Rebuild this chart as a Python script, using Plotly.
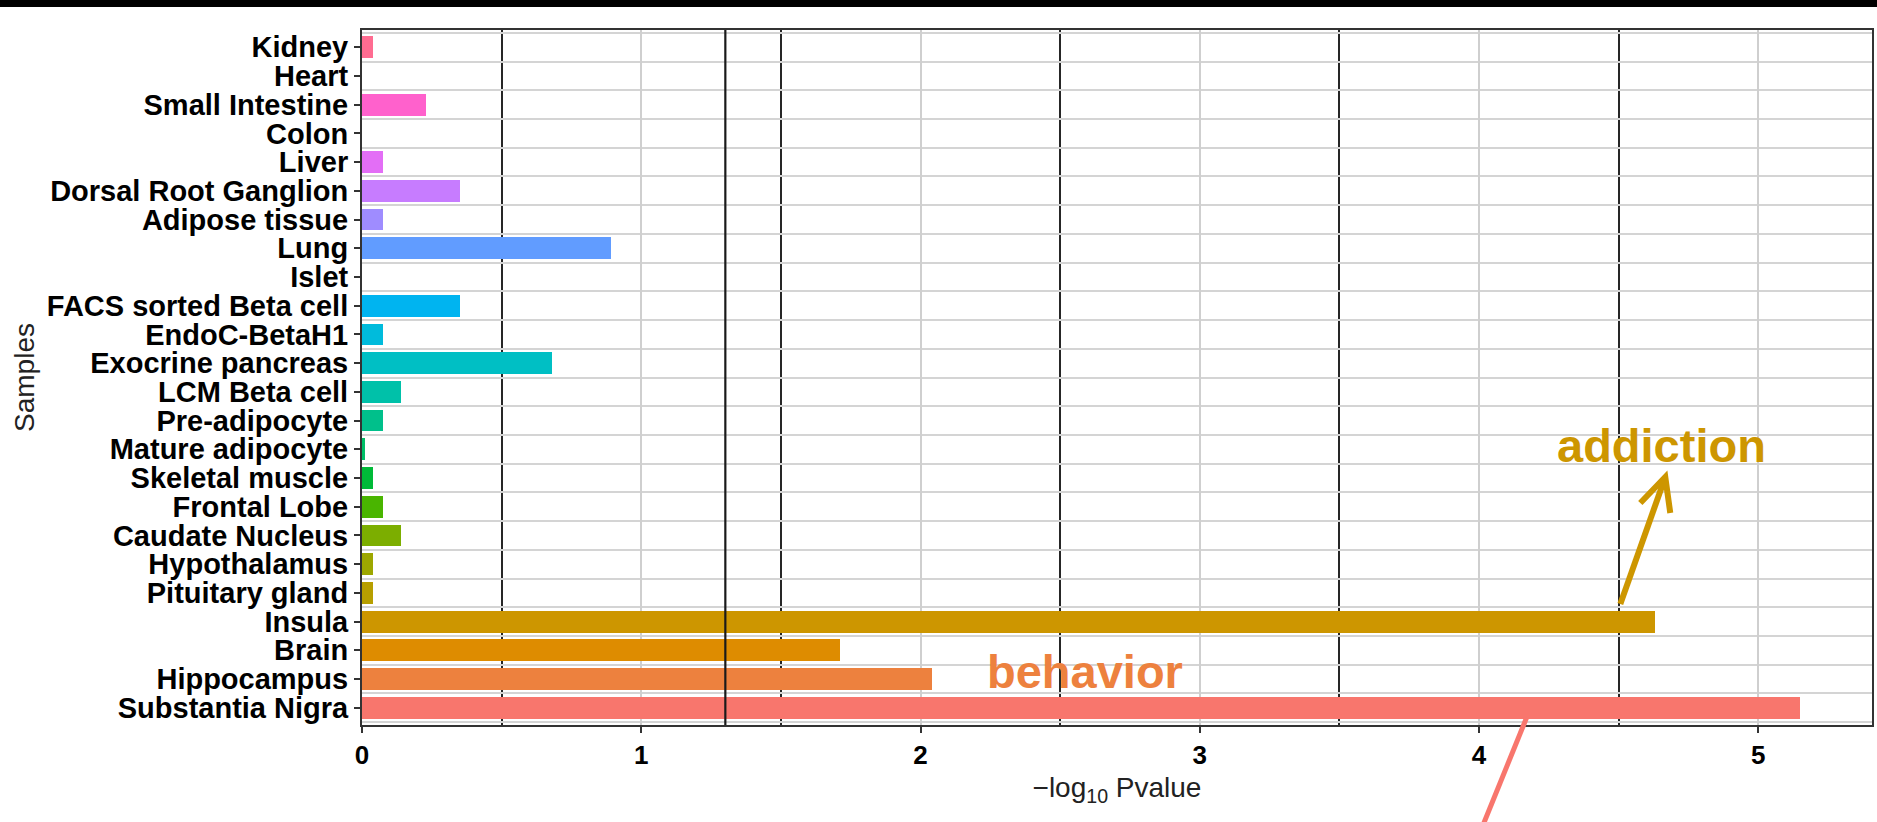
import math
import plotly.graph_objects as go

# Samples listed bottom-to-top, with their enrichment scores (-log10 P)
samples = [
    "Substantia Nigra", "Hippocampus", "Brain", "Insula", "Pituitary gland",
    "Hypothalamus", "Caudate Nucleus", "Frontal Lobe", "Skeletal muscle",
    "Mature adipocyte", "Pre-adipocyte", "LCM Beta cell", "Exocrine pancreas",
    "EndoC-BetaH1", "FACS sorted Beta cell", "Islet", "Lung", "Adipose tissue",
    "Dorsal Root Ganglion", "Liver", "Colon", "Small Intestine", "Heart", "Kidney",
]
neg_log10_p = [
    5.15, 2.04, 1.71, 4.63, 0.04,
    0.04, 0.14, 0.075, 0.04,
    0.01, 0.075, 0.14, 0.68,
    0.075, 0.35, 0.0, 0.89, 0.075,
    0.35, 0.075, 0.0, 0.23, 0.0, 0.04,
]
p_threshold = 0.05
x_ticks = [0, 1, 2, 3, 4, 5]

FONT = "Liberation Sans, Arial, Helvetica, sans-serif"
W, H = 1877, 822
L, R, T, B = 362, 3, 30, 97
PW, PH = W - L - R, H - T - B


def hue_palette(n, c=100.0, l=65.0):
    """Evenly spaced HCL hues (polarLUV -> sRGB, D65 white)."""
    hues = [15 + i * 345.0 / (n - 1) for i in range(n)]
    wx, wy, wz = 95.047, 100.0, 108.883
    wu, wv = 0.1978398, 0.4683363

    def gam(u):
        return 1.055 * u ** (1 / 2.4) - 0.055 if u > 0.00304 else 12.92 * u

    out = []
    for h in hues:
        hr = math.radians(h)
        U, V = c * math.cos(hr), c * math.sin(hr)
        Y = wy * (((l + 16) / 116) ** 3 if l > 7.999592 else l / 903.3)
        u = U / (13 * l) + wu
        v = V / (13 * l) + wv
        X = 9.0 * Y * u / (4 * v)
        Z = -X / 3 - 5 * Y + 3 * Y / v
        rgb = [
            gam((3.240479 * X - 1.537150 * Y - 0.498535 * Z) / wy),
            gam((-0.969256 * X + 1.875992 * Y + 0.041556 * Z) / wy),
            gam((0.055648 * X - 0.204043 * Y + 1.057311 * Z) / wy),
        ]
        rgb = [min(1.0, max(0.0, k)) for k in rgb]
        out.append("#%02X%02X%02X" % tuple(int(255 * k + 0.5) for k in rgb))
    return out


colors = hue_palette(len(samples))
positions = list(range(len(samples)))


def px(x):
    return (x - L) / PW


def py(y):
    return (T + PH - y) / PH


fig = go.Figure()
fig.add_trace(go.Bar(
    x=neg_log10_p, y=positions, orientation="h", width=0.76,
    marker=dict(color=colors, line=dict(width=0)),
    hoverinfo="skip", showlegend=False,
))

axis_line = "#333333"
fig.update_layout(
    width=W, height=H,
    margin=dict(l=L, r=R, t=T, b=B, pad=0),
    paper_bgcolor="white", plot_bgcolor="white",
    font=dict(family=FONT, color="black"),
    bargap=0,
    xaxis=dict(
        range=[0, 5.407], tickmode="array", tickvals=x_ticks,
        ticks="outside", ticklen=6, tickwidth=2, tickcolor=axis_line,
        showline=True, linewidth=2, linecolor=axis_line, mirror=True,
        showgrid=True, gridcolor="#cfcfcf", gridwidth=2, zeroline=False,
        tickfont=dict(size=26, weight="bold", color="black"),
        minor=dict(tickmode="linear", tick0=0.5, dtick=1, showgrid=True,
                   gridcolor="#262626", gridwidth=2.2, ticks=""),
        title=dict(text="\u2212log<sub>10</sub> Pvalue",
                   font=dict(size=28, color="#222222"), standoff=8),
    ),
    yaxis=dict(
        range=[-0.6, len(samples) - 0.4], tickmode="array",
        tickvals=positions, ticktext=samples,
        ticks="outside", ticklen=6, tickwidth=2, tickcolor=axis_line,
        showline=True, linewidth=2, linecolor=axis_line, mirror=True,
        showgrid=False, zeroline=False,
        tickfont=dict(size=29, weight="bold", color="black"),
        minor=dict(tickmode="linear", tick0=0.5, dtick=1, showgrid=True,
                   gridcolor="#d4d4d4", gridwidth=2, ticks=""),
        title=dict(text="Samples", font=dict(size=28, color="#222222"),
                   standoff=4),
    ),
)

# significance threshold line, drawn over the bars
fig.add_shape(type="line", xref="x", yref="paper",
              x0=-math.log10(p_threshold), x1=-math.log10(p_threshold),
              y0=0, y1=1, line=dict(color="#1a1a1a", width=2.2), layer="above")

# black band along the top edge
fig.add_shape(type="rect", xref="paper", yref="paper",
              x0=px(-5), x1=px(W + 5), y0=py(7), y1=py(-5),
              fillcolor="black", line=dict(width=0), layer="above")

# callout arrows
gold = colors[3]
fig.add_shape(type="path", xref="paper", yref="paper",
              path="M %f,%f L %f,%f" % (px(1622), py(604), px(1667), py(477)),
              line=dict(color=gold, width=6), layer="above")
fig.add_shape(type="path", xref="paper", yref="paper",
              path="M %f,%f L %f,%f L %f,%f" % (px(1642), py(503), px(1667), py(477),
                                                 px(1672), py(513)),
              line=dict(color=gold, width=6), layer="above")
fig.add_shape(type="line", xref="paper", yref="paper",
              x0=px(1528), y0=py(718), x1=px(1476), y1=py(846),
              line=dict(color=colors[0], width=5), layer="above")

fig.add_annotation(text="<b>addiction</b>", xref="paper", yref="paper",
                   x=px(1663), y=py(445.5), xanchor="center", yanchor="middle",
                   showarrow=False, font=dict(size=47, color=gold, family=FONT))
fig.add_annotation(text="<b>behavior</b>", xref="paper", yref="paper",
                   x=px(1086), y=py(671.5), xanchor="center", yanchor="middle",
                   showarrow=False, font=dict(size=47, color=colors[1], family=FONT))

fig.write_html("out.html")
